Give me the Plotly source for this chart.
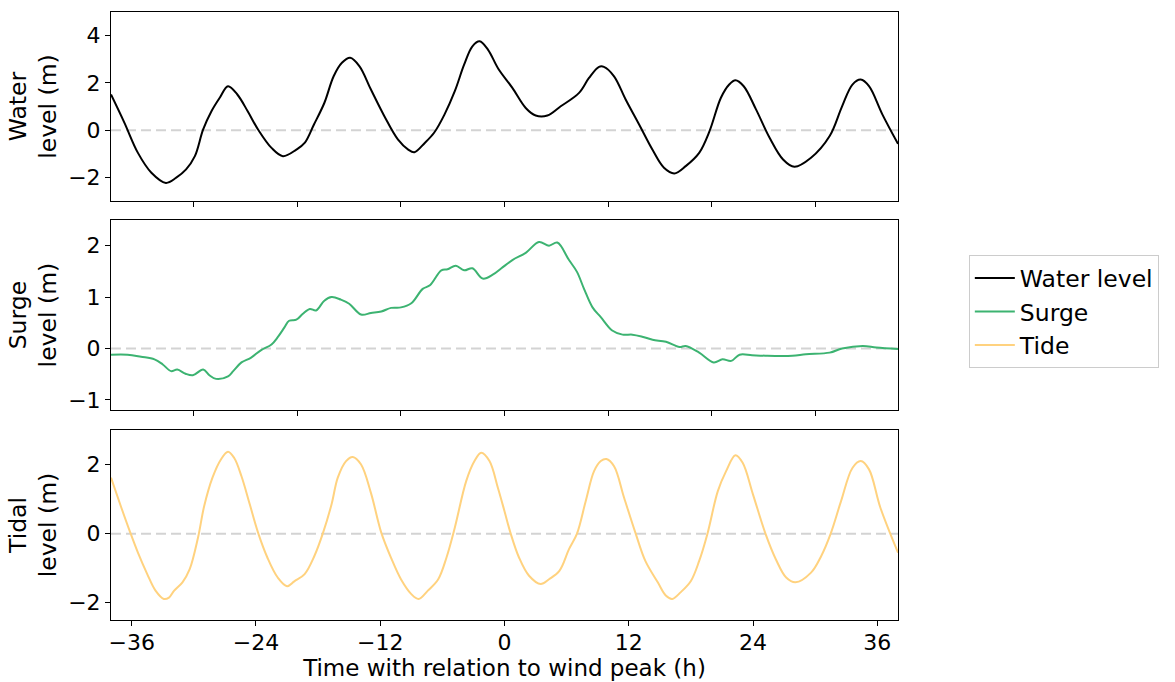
import plotly.graph_objects as go

# ---- data ----
water_t = [-38.0, -36.7, -35.4, -34.1, -32.7, -31.7, -30.75, -29.9, -29.1, -28.3, -27.5, -26.7,
           -25.8, -24.8, -23.8, -22.5, -21.4, -20.1, -19.3, -18.4, -17.4, -16.5, -15.7, -14.9,
           -14.0, -12.9, -11.6, -10.3, -9.3, -8.7, -7.7, -6.8, -5.8, -4.8, -3.9, -3.1, -2.4,
           -1.6, -0.6, 0.76, 2.05, 3.01, 4.14, 5.43, 7.2, 8.16, 9.13, 9.6, 10.58, 11.7, 13.0,
           14.28, 15.4, 16.4, 17.5, 18.8, 19.8, 20.9, 21.7, 22.3, 23.1, 24.3, 25.6, 26.9, 28.0,
           29.6, 31.4, 32.6, 33.6, 34.4, 35.2, 36.5, 38.0]
water_v = [1.51, 0.31, -0.96, -1.80, -2.23, -2.01, -1.66, -1.10, 0.03, 0.80, 1.37, 1.86,
           1.51, 0.80, 0.03, -0.75, -1.10, -0.82, -0.54, 0.24, 1.15, 2.28, 2.85, 3.06,
           2.70, 1.72, 0.59, -0.39, -0.82, -0.93, -0.54, -0.11, 0.66, 1.65, 2.77, 3.55, 3.76,
           3.41, 2.60, 1.79, 0.94, 0.62, 0.62, 1.01, 1.58, 2.21, 2.68, 2.68, 2.28, 1.30, 0.24,
           -0.82, -1.59, -1.83, -1.52, -0.96, -0.04, 1.37, 1.93, 2.11, 1.86, 0.87, -0.32, -1.24, -1.55,
           -1.17, -0.25, 1.01, 1.93, 2.14, 1.86, 0.66, -0.58]

surge_t = [-38.0, -36.4, -35.1, -33.8, -33.0, -32.2, -31.6, -30.8, -30.1, -29.1, -28.5, -27.85,
           -26.7, -26.2, -25.4, -24.5, -23.5, -22.5, -21.9, -21.25, -20.8, -20.1, -19.5, -18.8,
           -18.2, -17.4, -16.7, -15.8, -15.0, -13.85, -12.9, -11.9, -10.95, -10.0, -9.0, -7.9,
           -7.2, -6.1, -5.5, -4.7, -3.9, -3.1, -2.1, -1.1, -0.3, 0.76, 2.05, 3.33, 4.3, 5.1,
           6.23, 7.0, 7.68, 8.5, 9.3, 10.4, 11.4, 12.35, 13.3, 14.3, 15.6, 16.9, 17.5, 18.8,
           20.2, 21.05, 21.9, 22.7, 23.9, 25.2, 27.8, 29.1, 31.4, 32.6, 34.6, 35.9, 38.0]
surge_v = [-0.12, -0.12, -0.16, -0.21, -0.31, -0.44, -0.41, -0.49, -0.52, -0.41, -0.52, -0.59,
           -0.54, -0.44, -0.27, -0.18, -0.03, 0.08, 0.22, 0.41, 0.54, 0.56, 0.67, 0.77,
           0.74, 0.93, 1.00, 0.95, 0.87, 0.66, 0.69, 0.72, 0.79, 0.80, 0.88, 1.16,
           1.23, 1.52, 1.54, 1.61, 1.52, 1.56, 1.36, 1.44, 1.56, 1.72, 1.86, 2.07, 2.00, 2.06,
           1.72, 1.49, 1.16, 0.80, 0.61, 0.35, 0.27, 0.27, 0.23, 0.17, 0.13, 0.03, 0.05, -0.08,
           -0.27, -0.21, -0.24, -0.12, -0.13, -0.14, -0.14, -0.11, -0.08, 0.0, 0.05, 0.02, -0.01]

tide_t = [-38.0, -37.0, -36.2, -35.4, -34.5, -33.7, -32.9, -32.4, -31.9, -31.1, -30.4, -29.6,
          -29.0, -28.2, -27.4, -26.7, -26.1, -25.4, -24.6, -23.8, -22.9, -21.9, -21.0, -20.3,
          -19.3, -18.35, -17.55, -16.7, -16.1, -15.3, -14.65, -13.85, -12.9, -11.9, -10.9, -10.0,
          -9.0, -8.3, -7.4, -6.4, -5.6, -4.8, -3.7, -2.9, -2.25, -1.45, -0.64, 0.0, 0.6, 1.4,
          2.37, 3.5, 4.3, 5.3, 6.23, 7.0, 7.84, 8.65, 9.3, 9.84, 10.58, 11.55, 12.67, 13.6,
          14.8, 15.6, 16.2, 17.0, 18.0, 18.8, 19.6, 20.6, 21.4, 22.3, 23.0, 24.0, 25.2, 26.2,
          27.2, 28.1, 29.6, 30.6, 31.5, 32.5, 33.6, 34.4, 35.2, 36.3, 38.0]
tide_v = [1.62, 0.75, 0.08, -0.55, -1.17, -1.65, -1.89, -1.85, -1.65, -1.41, -1.03, -0.12,
          0.80, 1.62, 2.14, 2.37, 2.19, 1.66, 0.85, 0.03, -0.69, -1.27, -1.52, -1.38,
          -1.17, -0.64, 0.0, 0.85, 1.62, 2.10, 2.22, 2.00, 1.18, 0.03, -0.74, -1.32,
          -1.75, -1.89, -1.65, -1.32, -0.69, 0.17, 1.52, 2.10, 2.34, 2.10, 1.33, 0.65, 0.0, -0.69,
          -1.22, -1.46, -1.32, -1.08, -0.45, 0.0, 0.94, 1.81, 2.10, 2.16, 1.95, 1.04, 0.0, -0.79,
          -1.41, -1.80, -1.89, -1.70, -1.37, -0.79, 0.0, 1.23, 1.81, 2.27, 2.05, 1.13, 0.0, -0.74,
          -1.27, -1.41, -1.13, -0.64, 0.0, 0.94, 1.90, 2.10, 1.86, 0.75, -0.55]

top_ticks = [-30, -20, -10, 0, 10, 20, 30]
bottom_ticks = [-36, -24, -12, 0, 12, 24, 36]
series_names = ["Water level", "Surge", "Tide"]
colors = ["#000000", "#3cb371", "#ffd27f"]
y_titles = ["Water<br>level (m)", "Surge<br>level (m)", "Tidal<br>level (m)"]
y_ranges = [[-3, 5], [-1.2, 2.5], [-2.5, 3]]
y_ticks = [[-2, 0, 2, 4], [-1, 0, 1, 2], [-2, 0, 2]]
x_range = [-38, 38]

FONT = "DejaVu Sans"
FS = 22      # tick labels
FT = 23.5    # titles / legend
fig = go.Figure()

data = [(water_t, water_v), (surge_t, surge_v), (tide_t, tide_v)]
for i, ((t, v), name, c) in enumerate(zip(data, series_names, colors)):
    ax = "" if i == 0 else str(i + 1)
    fig.add_trace(go.Scatter(x=t, y=v, mode="lines", name=name,
                             line=dict(color=c, width=2, shape="spline", smoothing=1.0),
                             xaxis="x" + ax, yaxis="y" + ax))

domains = [[0.689, 1.0], [0.345, 0.658], [0.0, 0.3125]]
layout = dict(
    width=1175, height=682,
    margin=dict(l=111, r=277, t=12, b=62, autoexpand=False),
    plot_bgcolor="white", paper_bgcolor="white",
    font=dict(family=FONT, size=FS, color="black"),
    legend=dict(x=1.090, y=0.600, xanchor="left", yanchor="top",
                bordercolor="#cccccc", borderwidth=1, bgcolor="white",
                font=dict(size=FT), itemwidth=40),
    showlegend=True,
)
shapes = []
for i in range(3):
    ax = "" if i == 0 else str(i + 1)
    xa = dict(range=x_range, domain=[0, 1], anchor="y" + ax, showgrid=False, zeroline=False,
              showline=True, linecolor="black", linewidth=1, mirror=True, automargin=False,
              ticks="outside", ticklen=5, tickcolor="black",
              tickfont=dict(size=FS))
    if i < 2:
        xa.update(tickvals=top_ticks, showticklabels=False, matches="x3")
    else:
        xa.update(tickvals=bottom_ticks, ticklabelstandoff=-2,
                  title=dict(text="Time with relation to wind peak (h)", font=dict(size=23), standoff=3))
    ya = dict(range=y_ranges[i], domain=domains[i], anchor="x" + ax, showgrid=False, zeroline=False,
              showline=True, linecolor="black", linewidth=1, mirror=True, automargin=False,
              ticks="outside", ticklen=5, tickcolor="black", tickvals=y_ticks[i],
              tickfont=dict(size=FS),
              title=dict(text=y_titles[i], font=dict(size=FT), standoff=4))
    layout["xaxis" + ax] = xa
    layout["yaxis" + ax] = ya
    shapes.append(dict(type="line", xref="x" + ax + " domain", yref="y" + ax,
                       x0=0, x1=1, y0=0, y1=0, layer="below",
                       line=dict(color="#d3d3d3", width=2, dash="10px,5px")))
layout["shapes"] = shapes
fig.update_layout(**layout)
fig.write_html("out.html", config={"displayModeBar": False})
